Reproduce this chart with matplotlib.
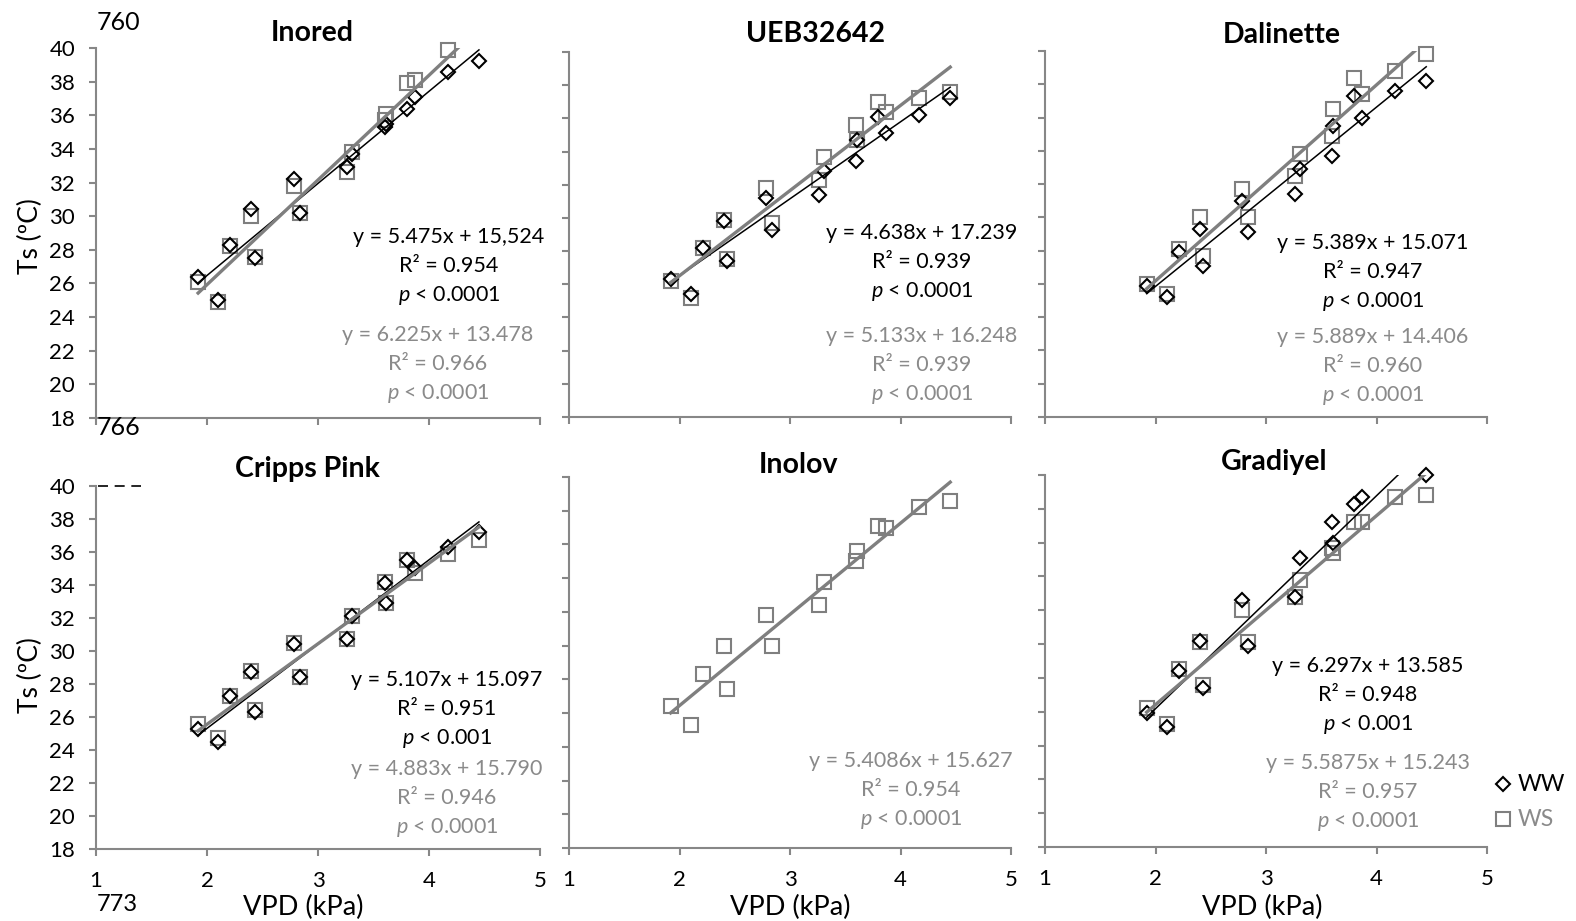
import numpy as np
import matplotlib.pyplot as plt
from matplotlib.lines import Line2D

plt.rcParams['font.family'] = ['Lato', 'DejaVu Sans']
plt.rcParams['mathtext.fontset'] = 'custom'
plt.rcParams['mathtext.rm'] = 'Lato'
plt.rcParams['mathtext.it'] = 'Lato:italic'

# ---- data ----
vpd = [1.92, 2.10, 2.21, 2.40, 2.43, 2.78, 2.84, 3.26, 3.31, 3.60, 3.61, 3.80, 3.87, 4.17, 4.45]

inored_ww = [26.4, 25.0, 28.3, 30.4, 27.5, 32.2, 30.2, 32.9, 33.7, 35.3, 35.5, 36.4, 37.1, 38.6, 39.2]
inored_ws = [26.1, 24.9, 28.2, 30.0, 27.6, 31.8, 30.2, 32.6, 33.8, 35.7, 36.1, 37.9, 38.1, 39.9, np.nan]
ueb_ww = [26.3, 25.4, 28.2, 29.8, 27.4, 31.2, 29.3, 31.4, 32.8, 33.4, 34.7, 36.1, 35.1, 36.2, 37.2]
ueb_ws = [26.2, 25.2, 28.2, 29.9, 27.5, 31.8, 29.7, 32.3, 33.7, 35.6, 34.7, 37.0, 36.4, 37.2, 37.6]
dal_ww = [25.9, 25.2, 27.9, 29.3, 27.1, 31.0, 29.1, 31.4, 32.9, 33.7, 35.5, 37.3, 36.0, 37.6, 38.2]
dal_ws = [26.0, 25.4, 28.1, 30.0, 27.7, 31.7, 30.0, 32.5, 33.8, 34.9, 36.5, 38.4, 37.4, 38.8, 39.8]
cripps_ww = [25.3, 24.5, 27.3, 28.7, 26.3, 30.4, 28.4, 30.7, 32.1, 34.1, 32.9, 35.5, 35.0, 36.3, 37.2]
cripps_ws = [25.6, 24.7, 27.3, 28.8, 26.4, 30.5, 28.4, 30.7, 32.1, 34.2, 32.9, 35.5, 34.7, 35.9, 36.7]
inolov_ws = [26.4, 25.3, 28.3, 30.0, 27.4, 31.8, 30.0, 32.4, 33.8, 35.0, 35.6, 37.1, 37.0, 38.2, 38.6]
grad_ww = [25.9, 25.1, 28.4, 30.2, 27.4, 32.6, 29.9, 32.8, 35.1, 37.2, 36.0, 38.3, 38.7, np.nan, 40.0]
grad_ws = [26.2, 25.3, 28.5, 30.1, 27.6, 32.0, 30.1, 32.8, 33.8, 35.7, 35.4, 37.2, 37.2, 38.7, 38.8]

cultivars = ['Inored', 'UEB32642', 'Dalinette', 'Cripps Pink', 'Inolov', 'Gradiyel']
ww_series = [inored_ww, ueb_ww, dal_ww, cripps_ww, None, grad_ww]
ws_series = [inored_ws, ueb_ws, dal_ws, cripps_ws, inolov_ws, grad_ws]

ww_slope = [5.475, 4.638, 5.389, 5.107, None, 6.297]
ww_icept = [15.524, 17.239, 15.071, 15.097, None, 13.585]
ws_slope = [6.225, 5.133, 5.889, 4.883, 5.4086, 5.5875]
ws_icept = [13.478, 16.248, 14.406, 15.790, 15.627, 15.243]

ww_eq = ['y = 5.475x + 15,524', 'y = 4.638x + 17.239', 'y = 5.389x + 15.071',
         'y = 5.107x + 15.097', None, 'y = 6.297x + 13.585']
ww_r2 = ['0.954', '0.939', '0.947', '0.951', None, '0.948']
ww_p = ['0.0001', '0.0001', '0.0001', '0.001', None, '0.001']
ws_eq = ['y = 6.225x + 13.478', 'y = 5.133x + 16.248', 'y = 5.889x + 14.406',
         'y = 4.883x + 15.790', 'y = 5.4086x + 15.627', 'y = 5.5875x + 15.243']
ws_r2 = ['0.966', '0.939', '0.960', '0.946', '0.954', '0.957']
ws_p = ['0.0001', '0.0001', '0.0001', '0.0001', '0.0001', '0.0001']

y_ticks = list(range(18, 41, 2))
x_ticks = [1, 2, 3, 4, 5]

# ---- layout (pixels) ----
W, H = 1576, 921
# left, right, top, bottom of each plot area
boxes = [(96, 540, 48, 418), (569, 1011, 52, 417), (1045, 1487, 51, 417),
         (96, 540, 486, 849), (569, 1011, 477, 848), (1045, 1487, 475, 847)]
title_pos = [(312, 33), (815, 34), (1282, 35), (307, 469), (799, 465), (1274, 462)]
ww_txt = [(449, 237), (922, 233), (1373, 243), (447, 680), None, (1368, 666)]
ws_txt = [(438, 335), (922, 336), (1373, 337), (447, 769), (911, 761), (1368, 763)]
line_gap = 29.3

BLACK = '#000000'
GREY = '#7f7f7f'
GREY_TXT = '#8a8a8a'
AXIS = '#878787'

fig = plt.figure(figsize=(W / 100, H / 100), dpi=100)


def fx(x):
    return x / W


def fy(y):
    return 1 - y / H


for i, name in enumerate(cultivars):
    l, r, t, b = boxes[i]
    ax = fig.add_axes([fx(l), fy(b), fx(r - l), (b - t) / H])
    ax.set_xlim(1, 5)
    ax.set_ylim(18, 40)
    ax.set_xticks(x_ticks)
    ax.set_yticks(y_ticks)
    for s in ['top', 'right']:
        ax.spines[s].set_visible(False)
    for s in ['left', 'bottom']:
        ax.spines[s].set_color(AXIS)
        ax.spines[s].set_linewidth(1.5)
    ax.tick_params(direction='out', length=5, width=1.5, color=AXIS,
                   labelsize=16, labelcolor=BLACK)
    ax.tick_params(axis='y', pad=10)
    ax.tick_params(axis='x', pad=11)
    if i % 3 != 0:
        ax.tick_params(axis='y', labelleft=False)
    if i < 3:
        ax.tick_params(axis='x', labelbottom=False)

    # points
    ax.plot(vpd, ws_series[i], ls='none', marker='s', ms=9.5, mfc='none',
            mec=GREY, mew=1.5, zorder=2, clip_on=False)
    if ww_series[i] is not None:
        ax.plot(vpd, ww_series[i], ls='none', marker='D', ms=6.8, mfc='none',
                mec=BLACK, mew=1.5, zorder=3, clip_on=False)

    # trendlines
    xs = np.array([min(vpd), max(vpd)])
    if ww_slope[i] is not None:
        ax.plot(xs, ww_slope[i] * xs + ww_icept[i], color=BLACK, lw=1.1, zorder=4)
    ax.plot(xs, ws_slope[i] * xs + ws_icept[i], color=GREY, lw=2.4, zorder=5)

    # title
    tx, ty = title_pos[i]
    fig.text(fx(tx), fy(ty), name, ha='center', va='center', fontsize=20.5,
             fontweight='bold')

    # equations
    if ww_txt[i] is not None:
        cx, cy = ww_txt[i]
        lines = [ww_eq[i], 'R² = ' + ww_r2[i], r'$p$ < ' + ww_p[i]]
        for k, s in enumerate(lines):
            fig.text(fx(cx), fy(cy + k * line_gap), s, ha='center', va='center',
                     fontsize=15.5, color=BLACK)
    cx, cy = ws_txt[i]
    lines = [ws_eq[i], 'R² = ' + ws_r2[i], r'$p$ < ' + ws_p[i]]
    for k, s in enumerate(lines):
        fig.text(fx(cx), fy(cy + k * line_gap), s, ha='center', va='center',
                 fontsize=15.5, color=GREY_TXT)

# axis titles
for yc in [236, 675]:
    fig.text(fx(30), fy(yc), 'Ts (ºC)', rotation=90, ha='center', va='center',
             fontsize=19)
for xc in [303, 790, 1262]:
    fig.text(fx(xc), fy(907), 'VPD (kPa)', ha='center', va='center', fontsize=19.5)

# legend
fig.lines.append(Line2D([fx(1503)], [fy(784)], transform=fig.transFigure, ls='none',
                        marker='D', ms=6.8, mfc='none', mec=BLACK, mew=1.5))
fig.text(fx(1518), fy(784), 'WW', ha='left', va='center', fontsize=16.5, color=BLACK)
fig.lines.append(Line2D([fx(1503)], [fy(819)], transform=fig.transFigure, ls='none',
                        marker='s', ms=9.5, mfc='none', mec=GREY, mew=1.5))
fig.text(fx(1518), fy(819), 'WS', ha='left', va='center', fontsize=16.5, color=GREY_TXT)

# stray line numbers / marks from the source page
fig.text(fx(97), fy(22), '760', ha='left', va='center', fontsize=18)
fig.text(fx(97), fy(427), '766', ha='left', va='center', fontsize=18)
fig.text(fx(97), fy(904), '773', ha='left', va='center', fontsize=17)
fig.lines.append(Line2D([fx(98), fx(141)], [fy(486), fy(486)], transform=fig.transFigure,
                        color=BLACK, lw=1.2, dashes=(6, 4)))

fig.savefig('out.png', dpi=100)
